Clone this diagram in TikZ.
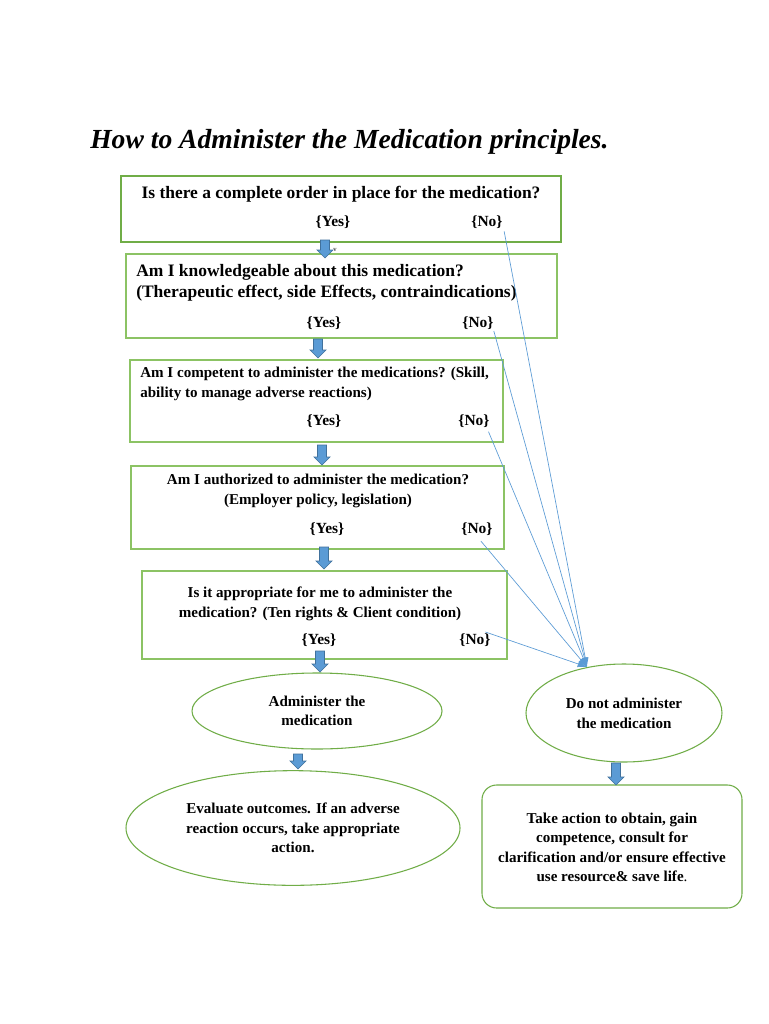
\documentclass[tikz,border=0pt]{standalone}
\usepackage{fontspec}
\setmainfont{Liberation Serif}
\usetikzlibrary{shapes.geometric,arrows.meta,fit}
\definecolor{grn}{RGB}{112,173,71}
\definecolor{grnlt}{RGB}{140,195,100}
\definecolor{blu}{RGB}{91,155,213}
\definecolor{bludk}{RGB}{65,113,156}
\newcommand\blockarrow[3]{%
  \draw[bludk, line width=0.5pt, fill=blu] (#1-4.5,#2) -- (#1+4.5,#2) -- (#1+4.5,#3-8) -- (#1+8,#3-8) -- (#1,#3) -- (#1-8,#3-8) -- (#1-4.5,#3-8) -- cycle;}
\begin{document}
\begin{tikzpicture}[x=0.75pt,y=-0.75pt,
  qbox/.style={draw=grnlt, line width=0.8pt, inner sep=0pt, outer sep=0pt},
  qtxt/.style={font=\fontsize{11.3}{15}\selectfont\bfseries, inner sep=0pt},
  qtxtL/.style={font=\fontsize{13.1}{15.75}\selectfont\bfseries, inner sep=0pt},
  yn/.style={font=\fontsize{11.6}{12}\selectfont\bfseries, inner sep=0pt},
  oval/.style={ellipse, draw=grn, line width=0.8pt, inner sep=0pt, outer sep=0pt},
  noline/.style={blu, line width=0.5pt, -{Latex[length=7pt,width=5pt]}}]
\useasboundingbox (0,0) rectangle (768,1024);
\fill[white] (0,0) rectangle (768,1024);

% title
\node[anchor=base west, inner sep=0pt, font=\fontsize{20.7}{24}\selectfont\bfseries\itshape] (title) at (90,148) {How to Administer the Medication principles.};

% box 1
\node[qbox, draw=grn, line width=1.6pt, fit={(121,176) (561,242)}] (b1) {};
\node[qtxtL, anchor=base] (t1) at (341,198) {Is there a complete order in place for the medication?};
\node[yn] (y1) at (333,222) {\{Yes\}};
\node[yn] (n1) at (487,222) {\{No\}};

% box 2
\node[qbox, fit={(126,254) (557,338)}] (b2) {};
\node[qtxtL, anchor=west, align=left] (t2) at (136,283) {Am I knowledgeable about this medication?\\(Therapeutic effect, side Effects, contraindications)};
\node[yn] (y2) at (324,323) {\{Yes\}};
\node[yn] (n2) at (478,323) {\{No\}};

% box 3
\node[qbox, fit={(130,360) (503,442)}] (b3) {};
\node[qtxt, anchor=west, align=left] (t3) at (140,384) {Am I competent to administer the medications? (Skill,\\ability to manage adverse reactions)};
\node[yn] (y3) at (324,421) {\{Yes\}};
\node[yn] (n3) at (474,421) {\{No\}};

% box 4
\node[qbox, fit={(131,466) (504,549)}] (b4) {};
\node[qtxt, align=center] (t4) at (318,490.5) {Am I authorized to administer the medication?\\(Employer policy, legislation)};
\node[yn] (y4) at (327,529) {\{Yes\}};
\node[yn] (n4) at (477,529) {\{No\}};

% box 5
\node[qbox, fit={(142,571) (507,659)}] (b5) {};
\node[qtxt, align=center] (t5) at (320,603.5) {Is it appropriate for me to administer the\\medication? (Ten rights \& Client condition)};
\node[yn] (y5) at (319,640) {\{Yes\}};
\node[yn] (n5) at (475,640) {\{No\}};

% outcome shapes
\node[oval, minimum width=187.5pt, minimum height=57pt] (e1) at (317,711) {};
\node[qtxt, align=center, font=\fontsize{11.3}{14.25}\selectfont\bfseries] at (e1) {Administer the\\medication};
\node[oval, minimum width=250.5pt, minimum height=86pt] (e2) at (293,828) {};
\node[qtxt, align=center, font=\fontsize{11.3}{14.6}\selectfont\bfseries] at (e2) {Evaluate outcomes. If an adverse\\reaction occurs, take appropriate\\action.};
\node[oval, minimum width=147pt, minimum height=73.5pt] (e3) at (624,713) {};
\node[qtxt, align=center, font=\fontsize{11.3}{15}\selectfont\bfseries] at (e3) {Do not administer\\the medication};
\node[draw=grn, line width=0.8pt, rounded corners=11pt, minimum width=195pt, minimum height=92.25pt, inner sep=0pt, outer sep=0pt] (r1) at (612,846.5) {};
\node[qtxt, align=center, font=\fontsize{11.3}{14.6}\selectfont\bfseries] at ([yshift=-0.75pt]r1.center) {Take action to obtain, gain\\competence, consult for\\clarification and/or ensure effective\\use resource\& save life\textmd{.}};

% block arrows
\blockarrow{325}{240}{258}
\node[inner sep=0pt, font=\fontsize{5}{5}\selectfont] (vmark) at (335,250) {v};
\blockarrow{318}{339}{358}
\blockarrow{322}{445}{465}
\blockarrow{324}{547}{569}
\blockarrow{320}{651}{672}
\blockarrow{298}{754}{769}
\blockarrow{616}{763}{785}

% No connectors
\coordinate (conv) at (587,667);
\draw[noline] ([xshift=1pt,yshift=-2pt]n1.south east) -- (conv);
\draw[noline] ([yshift=-1pt]n2.south east) -- (conv);
\draw[noline] ([xshift=-1pt,yshift=-3pt]n3.south east) -- (conv);
\draw[noline] ([xshift=-9pt,yshift=-4pt]n4.south east) -- (conv);
\draw[noline] ([xshift=-4pt,yshift=1pt]n5.north east) -- (conv);
\end{tikzpicture}
\end{document}
